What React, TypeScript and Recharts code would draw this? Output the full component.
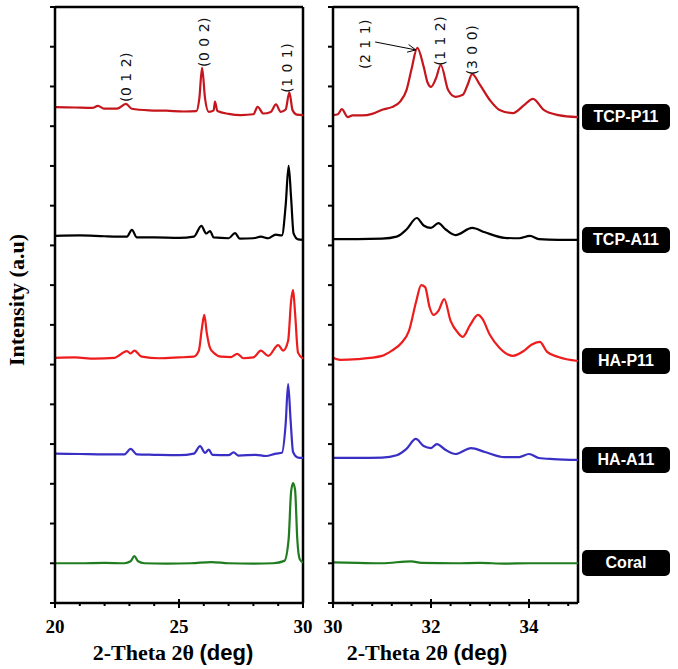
import React from "react";
import { LineChart, Line, XAxis, YAxis, ReferenceDot, ReferenceLine } from "recharts";

// each row: [2-theta (deg), intensity (a.u., stacked offset included)]
const CORAL_LO = [
  [20, 1.0], [21, 1.0], [22, 1.01], [22.8, 1.0], [23.05, 1.05], [23.2, 1.18], [23.35, 1.05],
  [23.6, 1.0], [24.5, 0.99], [25.5, 1.0], [26.3, 1.03], [27, 1.0], [28, 0.99], [28.8, 1.0],
  [29.25, 1.06], [29.42, 1.6], [29.52, 2.8], [29.6, 3.02], [29.68, 2.85], [29.77, 1.6],
  [29.87, 1.1], [30, 1.02],
];
const CORAL_HI = [
  [30, 1.02], [30.5, 1.01], [31, 1.0], [31.6, 1.05], [31.8, 1.01], [32.5, 1.0], [33, 1.01],
  [33.5, 0.99], [34, 1.0], [35, 1.0],
];

const HA_A11_LO = [
  [20, 3.76], [21, 3.75], [22, 3.74], [22.8, 3.74], [23.05, 3.88], [23.3, 3.74], [24, 3.73],
  [25, 3.72], [25.6, 3.76], [25.85, 3.95], [26.05, 3.78], [26.2, 3.86], [26.35, 3.73],
  [27, 3.72], [27.2, 3.79], [27.4, 3.71], [28.1, 3.73], [28.5, 3.7], [28.9, 3.76],
  [29.15, 3.78], [29.3, 4.5], [29.4, 5.51], [29.5, 4.6], [29.6, 3.8], [29.8, 3.66], [30, 3.65],
];
const HA_A11_HI = [
  [30, 3.65], [30.5, 3.65], [31, 3.66], [31.3, 3.72], [31.5, 3.88], [31.69, 4.13], [31.85, 3.95],
  [32.0, 3.9], [32.12, 4.0], [32.3, 3.85], [32.5, 3.75], [32.82, 3.9], [33.1, 3.8], [33.5, 3.67],
  [33.8, 3.67], [34.0, 3.75], [34.2, 3.65], [34.5, 3.62], [35, 3.6],
];

const HA_P11_LO = [
  [20, 6.17], [20.8, 6.18], [21.6, 6.15], [22.4, 6.17], [22.9, 6.34], [23.05, 6.28], [23.2, 6.35],
  [23.5, 6.2], [24.2, 6.16], [25, 6.18], [25.6, 6.2], [25.8, 6.35], [25.92, 6.9], [26.02, 7.25],
  [26.12, 6.8], [26.25, 6.42], [26.4, 6.3], [26.7, 6.2], [27.1, 6.19], [27.35, 6.27], [27.6, 6.16],
  [28, 6.18], [28.3, 6.35], [28.6, 6.22], [29.0, 6.49], [29.2, 6.35], [29.4, 6.6], [29.52, 7.6],
  [29.6, 7.88], [29.68, 7.3], [29.8, 6.3], [30, 6.15],
];
const HA_P11_HI = [
  [30, 6.17], [30.15, 6.12], [30.5, 6.14], [31.0, 6.22], [31.2, 6.35], [31.4, 6.55], [31.55, 6.85],
  [31.7, 7.6], [31.8, 8.0], [31.88, 7.95], [31.97, 7.45], [32.05, 7.25], [32.15, 7.35], [32.27, 7.65],
  [32.4, 7.1], [32.55, 6.8], [32.65, 6.7], [32.8, 7.0], [32.96, 7.25], [33.05, 7.15], [33.2, 6.75],
  [33.4, 6.42], [33.67, 6.22], [33.9, 6.35], [34.05, 6.5], [34.22, 6.57], [34.37, 6.32],
  [34.6, 6.19], [35, 6.09],
];

const TCP_A11_LO = [
  [20, 9.24], [21, 9.25], [22, 9.23], [22.9, 9.22], [23.1, 9.39], [23.3, 9.2], [24, 9.2], [25, 9.19],
  [25.6, 9.22], [25.9, 9.49], [26.1, 9.3], [26.25, 9.36], [26.4, 9.2], [27, 9.18], [27.26, 9.31],
  [27.45, 9.17], [28, 9.18], [28.3, 9.22], [28.6, 9.18], [28.9, 9.27], [29.15, 9.25], [29.3, 10.0],
  [29.42, 11.0], [29.52, 10.2], [29.62, 9.3], [29.8, 9.15], [30, 9.14],
];
const TCP_A11_HI = [
  [30, 9.16], [30.5, 9.16], [31, 9.17], [31.3, 9.22], [31.5, 9.4], [31.71, 9.69], [31.85, 9.5],
  [32.0, 9.44], [32.15, 9.56], [32.3, 9.4], [32.5, 9.26], [32.84, 9.44], [33.1, 9.33], [33.5, 9.19],
  [33.8, 9.18], [34.02, 9.24], [34.2, 9.16], [34.6, 9.14], [35, 9.14],
];

const TCP_P11_LO = [
  [20, 12.48], [20.8, 12.47], [21.5, 12.46], [21.73, 12.51], [22, 12.44], [22.5, 12.44],
  [22.86, 12.56], [23.1, 12.44], [23.8, 12.4], [24.5, 12.39], [25.2, 12.37], [25.7, 12.38],
  [25.82, 12.7], [25.93, 13.47], [26.05, 12.7], [26.2, 12.36], [26.4, 12.4], [26.45, 12.62],
  [26.55, 12.38], [27, 12.31], [27.5, 12.28], [28.0, 12.3], [28.17, 12.49], [28.4, 12.32],
  [28.7, 12.36], [28.91, 12.55], [29.1, 12.36], [29.3, 12.42], [29.45, 12.85], [29.58, 12.4],
  [29.75, 12.29], [30, 12.28],
];
const TCP_P11_HI = [
  [30, 12.28], [30.1, 12.3], [30.18, 12.43], [30.3, 12.23], [30.4, 12.27], [30.6, 12.27],
  [30.8, 12.31], [31.02, 12.42], [31.2, 12.48], [31.37, 12.62], [31.5, 12.91], [31.6, 13.42],
  [31.72, 13.97], [31.85, 13.5], [31.93, 13.1], [32.0, 12.99], [32.1, 13.2], [32.2, 13.54],
  [32.35, 12.91], [32.5, 12.74], [32.65, 12.79], [32.75, 13.05], [32.84, 13.31], [33.0, 13.04],
  [33.2, 12.66], [33.4, 12.41], [33.67, 12.33], [33.9, 12.53], [34.08, 12.69], [34.3, 12.41],
  [34.6, 12.28], [35, 12.23],
];

const SAMPLES = ["Coral", "HA-A11", "HA-P11", "TCP-A11", "TCP-P11"];
const COLORS = ["#1f7d1f", "#3a2fc4", "#ee1c1c", "#000000", "#c4161c"];
const LOW_SETS = [CORAL_LO, HA_A11_LO, HA_P11_LO, TCP_A11_LO, TCP_P11_LO];
const HIGH_SETS = [CORAL_HI, HA_A11_HI, HA_P11_HI, TCP_A11_HI, TCP_P11_HI];

const Y_TICKS = [0, 1, 2, 3, 4, 5, 6, 7, 8, 9, 10, 11, 12, 13, 14, 15];
const LO_TICKS = [20, 21, 22, 23, 24, 25, 26, 27, 28, 29, 30];
const LO_MAJOR = [20, 25, 30];
const HI_TICKS = [30, 30.4, 30.8, 31.2, 31.6, 32, 32.4, 32.8, 33.2, 33.6, 34, 34.4, 34.8];
const HI_MAJOR = [30, 32, 34];

// reflection indices: [label, 2-theta, label centre height]
const LO_PEAKS: [string, number, number][] = [
  ["(0 1 2)", 22.86, 13.24],
  ["(0 0 2)", 26.0, 14.12],
  ["(1 0 1)", 29.35, 13.47],
];
const HI_PEAKS: [string, number, number][] = [
  ["(2 1 1)", 30.65, 14.07],
  ["(1 1 2)", 32.18, 14.15],
  ["(3 0 0)", 32.84, 13.92],
];
const ARROW_FROM = { x: 30.86, y: 14.12 };
const ARROW_TO = { x: 31.69, y: 13.92 };

const toPoints = (rows: number[][]) => rows.map(([t, i]) => ({ t, i }));

const PLOT_TOP = 7;
const PLOT_BOTTOM = 603;
const Y_MAX = 15;
const CHART_H = 669;
const serif = "'Liberation Serif', 'Times New Roman', serif";
const sans = "'Liberation Sans', Arial, sans-serif";

const makeTick = (major: number[]) => (props: any) => {
  const { x, y, payload } = props;
  const isMajor = major.includes(payload.value);
  return (
    <g>
      <line
        x1={x}
        x2={x}
        y1={isMajor ? y - 4 : y}
        y2={y + (isMajor ? 5 : 3)}
        stroke="#000"
        strokeWidth={2}
      />
      {isMajor && (
        <text x={x} y={y + 30} textAnchor="middle" fontFamily={serif} fontWeight="bold" fontSize={19} fill="#000">
          {payload.value}
        </text>
      )}
    </g>
  );
};

const peakLabel = (text: string) => (p: any) => (
  <text
    x={p.cx}
    y={p.cy}
    transform={`rotate(-90 ${p.cx} ${p.cy})`}
    textAnchor="middle"
    dominantBaseline="central"
    fontFamily="'DejaVu Sans', sans-serif"
    fontSize={14}
    letterSpacing={0.5}
    fill="#111"
  >
    {text}
  </text>
);

const arrowHead = (p: any) => {
  const ang = Math.atan2(8, 41);
  const len = 9;
  const spread = 0.45;
  const a1 = ang + Math.PI - spread;
  const a2 = ang + Math.PI + spread;
  return (
    <polyline
      points={`${p.cx + len * Math.cos(a1)},${p.cy + len * Math.sin(a1)} ${p.cx},${p.cy} ${p.cx + len * Math.cos(a2)},${p.cy + len * Math.sin(a2)}`}
      fill="none"
      stroke="#000"
      strokeWidth={1}
    />
  );
};

const xTitle = (cx: number) => () => (
  <text x={cx} y={660} textAnchor="middle" fontSize={22} fontWeight="bold" fill="#000">
    <tspan fontFamily={serif}>2-Theta 2θ </tspan>
    <tspan fontFamily={sans}>(deg)</tspan>
  </text>
);

const yTitle = () => (
  <text
    x={24}
    y={300}
    transform="rotate(-90 24 300)"
    textAnchor="middle"
    fontFamily={serif}
    fontWeight="bold"
    fontSize={22}
    fill="#000"
  >
    Intensity (a.u)
  </text>
);

interface PanelProps {
  width: number;
  marginLeft: number;
  marginRight: number;
  domain: [number, number];
  ticks: number[];
  major: number[];
  sets: number[][][];
  peaks: [string, number, number][];
  titleX: number;
  withYTitle?: boolean;
  withArrow?: boolean;
}

function Panel(props: PanelProps) {
  const { width, marginLeft, marginRight, domain, ticks, major, sets, peaks, titleX, withYTitle, withArrow } = props;
  const axisStroke = { stroke: "#000", strokeWidth: 2.5 };
  return (
    <LineChart
      width={width}
      height={CHART_H}
      margin={{ top: PLOT_TOP, right: marginRight, bottom: 0, left: marginLeft }}
    >
      <XAxis
        dataKey="t"
        type="number"
        domain={domain}
        allowDataOverflow
        ticks={ticks}
        interval={0}
        tickSize={0}
        tickMargin={0}
        tickLine={false}
        tick={makeTick(major)}
        axisLine={axisStroke}
        height={CHART_H - PLOT_BOTTOM}
        label={{ content: xTitle(titleX) }}
      />
      <YAxis
        type="number"
        domain={[0, Y_MAX]}
        ticks={Y_TICKS}
        interval={0}
        width={15}
        tickSize={5}
        tickFormatter={() => ""}
        tickLine={{ stroke: "#000", strokeWidth: 2 }}
        axisLine={axisStroke}
        label={withYTitle ? { content: yTitle } : undefined}
      />
      {/* closing frame: top and right edges */}
      <ReferenceLine y={Y_MAX} stroke="#000" strokeWidth={2.5} />
      <ReferenceLine x={domain[1]} stroke="#000" strokeWidth={2.5} />
      {sets.map((rows, k) => (
        <Line
          key={SAMPLES[k]}
          name={SAMPLES[k]}
          data={toPoints(rows)}
          dataKey="i"
          type="monotone"
          stroke={COLORS[k]}
          strokeWidth={2.2}
          dot={false}
          isAnimationActive={false}
        />
      ))}
      {peaks.map(([label, t, h]) => (
        <ReferenceDot key={label} x={t} y={h} r={0} shape={peakLabel(label)} />
      ))}
      {withArrow && (
        <ReferenceLine segment={[ARROW_FROM, ARROW_TO]} stroke="#000" strokeWidth={1} />
      )}
      {withArrow && <ReferenceDot x={ARROW_TO.x} y={ARROW_TO.y} r={0} shape={arrowHead} />}
    </LineChart>
  );
}

export default function App() {
  const pxPerUnit = (PLOT_BOTTOM - PLOT_TOP) / Y_MAX;
  return (
    <div style={{ position: "absolute", left: 0, top: 0, width: 678, height: 669, background: "#fff" }}>
      <div style={{ position: "absolute", left: 0, top: 0 }}>
        <Panel
          width={322}
          marginLeft={40}
          marginRight={19}
          domain={[20, 30]}
          ticks={LO_TICKS}
          major={LO_MAJOR}
          sets={LOW_SETS}
          peaks={LO_PEAKS}
          titleX={173}
          withYTitle
        />
      </div>
      <div style={{ position: "absolute", left: 310, top: 0 }}>
        <Panel
          width={270}
          marginLeft={8}
          marginRight={2}
          domain={[30, 35]}
          ticks={HI_TICKS}
          major={HI_MAJOR}
          sets={HIGH_SETS}
          peaks={HI_PEAKS}
          titleX={117}
          withArrow
        />
      </div>
      {SAMPLES.map((name, k) => {
        const rows = HIGH_SETS[k];
        const cy = PLOT_BOTTOM - rows[rows.length - 1][1] * pxPerUnit;
        return (
          <div
            key={name}
            style={{
              position: "absolute",
              left: 582,
              top: cy - 13,
              width: 88,
              height: 26,
              borderRadius: 5,
              background: "#000",
              color: "#fff",
              fontFamily: sans,
              fontWeight: "bold",
              fontSize: 16,
              lineHeight: "26px",
              textAlign: "center",
            }}
          >
            {name}
          </div>
        );
      })}
    </div>
  );
}
